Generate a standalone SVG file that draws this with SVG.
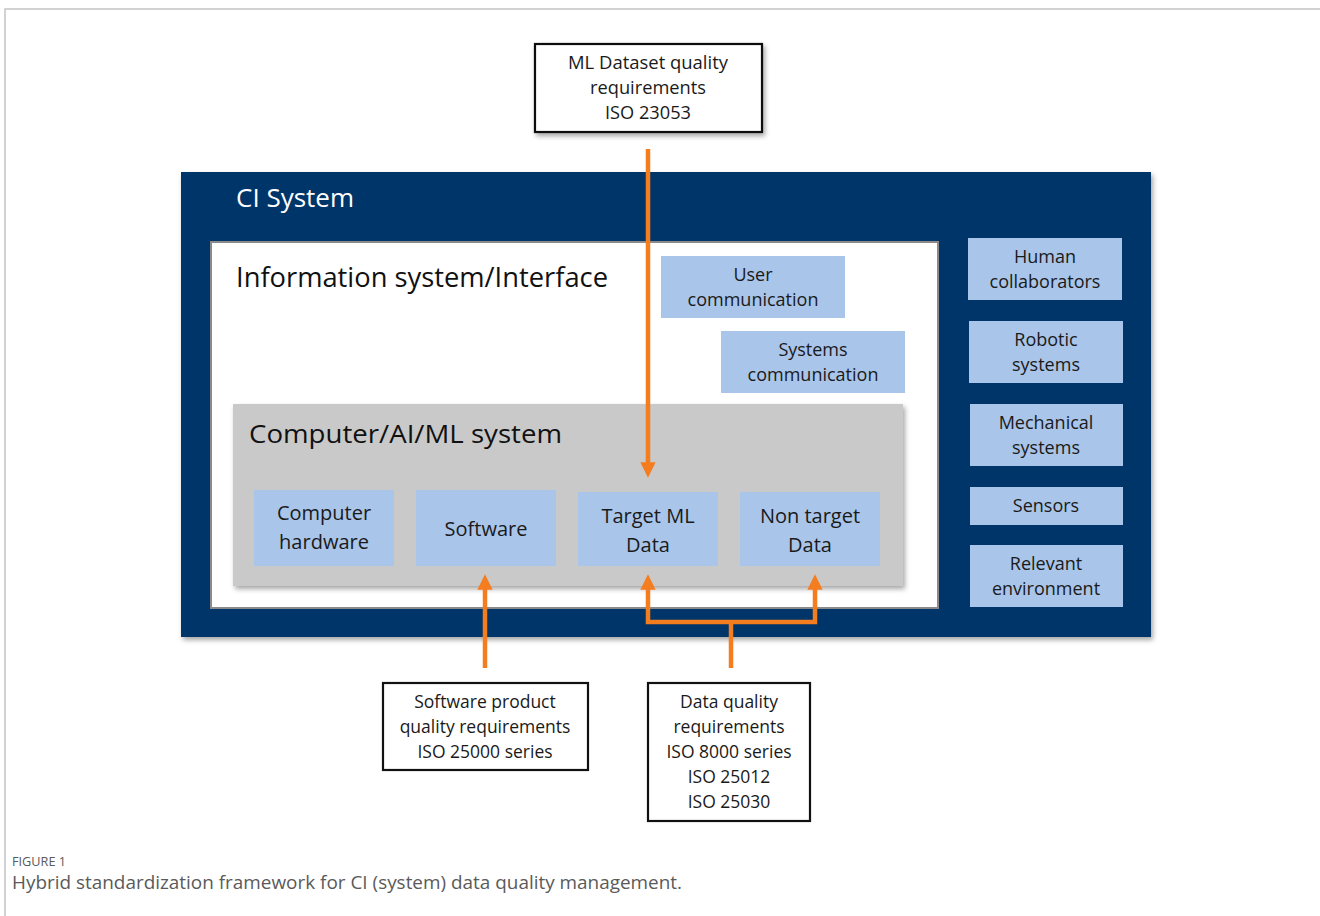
<svg xmlns="http://www.w3.org/2000/svg" width="1320" height="916" viewBox="0 0 1320 916">
  <defs>
    <style>
      .t { font-family: "Open Sans", "Liberation Sans", sans-serif; fill: #1a1a1a; text-anchor: middle; }
      .blue { fill: #a9c5e9; }
      .req { fill: #ffffff; stroke: #111111; stroke-width: 2.2; }
      .flow { fill: none; stroke: #f47d20; stroke-width: 4.5; }
      .cap { font-family: "Open Sans", "Liberation Sans", sans-serif; fill: #5a5a5a; }
    </style>
    <filter id="shadow" x="-5%" y="-5%" width="110%" height="115%">
      <feDropShadow dx="2" dy="3" stdDeviation="2.5" flood-color="#000000" flood-opacity="0.35"/>
    </filter>
    <marker id="head" viewBox="0 0 10 10" refX="5" refY="5" markerWidth="3.4" markerHeight="3.4" orient="auto-start-reverse" markerUnits="strokeWidth">
      <path d="M0,0 L10,5 L0,10 z" fill="#f47d20"/>
    </marker>
  </defs>

  <rect width="1320" height="916" fill="#ffffff"/>
  <!-- figure frame -->
  <path d="M5,916 V9 H1320" fill="none" stroke="#c4c4c4" stroke-width="1.5"/>

  <!-- CI system container -->
  <g id="ci-system">
    <rect x="181" y="172" width="970" height="465" fill="#03346a" filter="url(#shadow)"/>
    <text x="236" y="207" font-family="Open Sans, Liberation Sans, sans-serif" font-size="26" fill="#ffffff">CI System</text>
  </g>

  <g id="information-system">
    <rect x="211" y="242" width="727" height="366" fill="#ffffff" stroke="#8a8a8a" stroke-width="2"/>
    <text x="236" y="287" font-family="Open Sans, Liberation Sans, sans-serif" font-size="27" fill="#111111" textLength="372" lengthAdjust="spacingAndGlyphs">Information system/Interface</text>
  </g>

  <g id="user-communication">
    <rect class="blue" x="661" y="256" width="184" height="62"/>
    <text class="t" font-size="18" x="753" y="281">User</text>
    <text class="t" font-size="18" x="753" y="306">communication</text>
  </g>

  <g id="systems-communication">
    <rect class="blue" x="721" y="331" width="184" height="62"/>
    <text class="t" font-size="18" x="813" y="356">Systems</text>
    <text class="t" font-size="18" x="813" y="381">communication</text>
  </g>

  <g id="computer-system">
    <rect x="233" y="404" width="670" height="182" fill="#c9c9c9" filter="url(#shadow)"/>
    <text x="249" y="443" font-family="Open Sans, Liberation Sans, sans-serif" font-size="26" fill="#111111" textLength="313" lengthAdjust="spacingAndGlyphs">Computer/AI/ML system</text>
  </g>

  <g id="computer-hardware">
    <rect class="blue" x="254" y="490" width="140" height="76"/>
    <text class="t" font-size="20" x="324" y="520">Computer</text>
    <text class="t" font-size="20" x="324" y="549">hardware</text>
  </g>
  <g id="software">
    <rect class="blue" x="416" y="490" width="140" height="76"/>
    <text class="t" font-size="20" x="486" y="536">Software</text>
  </g>
  <g id="target-ml-data">
    <rect class="blue" x="578" y="492" width="140" height="74"/>
    <text class="t" font-size="20" x="648" y="523">Target ML</text>
    <text class="t" font-size="20" x="648" y="552">Data</text>
  </g>
  <g id="non-target-data">
    <rect class="blue" x="740" y="492" width="140" height="74"/>
    <text class="t" font-size="20" x="810" y="523">Non target</text>
    <text class="t" font-size="20" x="810" y="552">Data</text>
  </g>

  <g id="human-collaborators">
    <rect class="blue" x="968" y="238" width="154" height="62"/>
    <text class="t" font-size="18" x="1045" y="263">Human</text>
    <text class="t" font-size="18" x="1045" y="288">collaborators</text>
  </g>
  <g id="robotic-systems">
    <rect class="blue" x="969" y="321" width="154" height="62"/>
    <text class="t" font-size="18" x="1046" y="346">Robotic</text>
    <text class="t" font-size="18" x="1046" y="371">systems</text>
  </g>
  <g id="mechanical-systems">
    <rect class="blue" x="970" y="404" width="153" height="62"/>
    <text class="t" font-size="18" x="1046" y="429">Mechanical</text>
    <text class="t" font-size="18" x="1046" y="454">systems</text>
  </g>
  <g id="sensors">
    <rect class="blue" x="970" y="487" width="153" height="38"/>
    <text class="t" font-size="18" x="1046" y="512">Sensors</text>
  </g>
  <g id="relevant-environment">
    <rect class="blue" x="970" y="545" width="153" height="62"/>
    <text class="t" font-size="18" x="1046" y="570">Relevant</text>
    <text class="t" font-size="18" x="1046" y="595">environment</text>
  </g>

  <!-- requirement sources -->
  <g id="ml-dataset-requirements">
    <rect class="req" x="535" y="44" width="227" height="88" filter="url(#shadow)"/>
    <text class="t" font-size="17.5" x="648" y="69" textLength="160" lengthAdjust="spacingAndGlyphs">ML Dataset quality</text>
    <text class="t" font-size="17.5" x="648" y="94" textLength="116" lengthAdjust="spacingAndGlyphs">requirements</text>
    <text class="t" font-size="17.5" x="648" y="119" textLength="86" lengthAdjust="spacingAndGlyphs">ISO 23053</text>
  </g>

  <g id="software-requirements">
    <rect class="req" x="383" y="683" width="205" height="87"/>
    <text class="t" font-size="17.5" x="485" y="708">Software product</text>
    <text class="t" font-size="17.5" x="485" y="733">quality requirements</text>
    <text class="t" font-size="17.5" x="485" y="758">ISO 25000 series</text>
  </g>

  <g id="data-quality-requirements">
    <rect class="req" x="648" y="683" width="162" height="138"/>
    <text class="t" font-size="17.5" x="729" y="708">Data quality</text>
    <text class="t" font-size="17.5" x="729" y="733">requirements</text>
    <text class="t" font-size="17.5" x="729" y="758">ISO 8000 series</text>
    <text class="t" font-size="17.5" x="729" y="783">ISO 25012</text>
    <text class="t" font-size="17.5" x="729" y="808">ISO 25030</text>
  </g>

  <g id="connectors">
    <path class="flow" d="M648,149 V470" marker-end="url(#head)"/>
    <path class="flow" d="M485,668 V582" marker-end="url(#head)"/>
    <path class="flow" d="M731,668 V622"/>
    <path class="flow" d="M648,582 V622 H815 V582" marker-start="url(#head)" marker-end="url(#head)"/>
  </g>

  <!-- caption -->
  <text class="cap" x="12" y="866" font-size="13" textLength="54" lengthAdjust="spacingAndGlyphs">FIGURE 1</text>
  <text class="cap" x="12" y="889" font-size="17.5" textLength="670" lengthAdjust="spacingAndGlyphs">Hybrid standardization framework for CI (system) data quality management.</text>
</svg>
